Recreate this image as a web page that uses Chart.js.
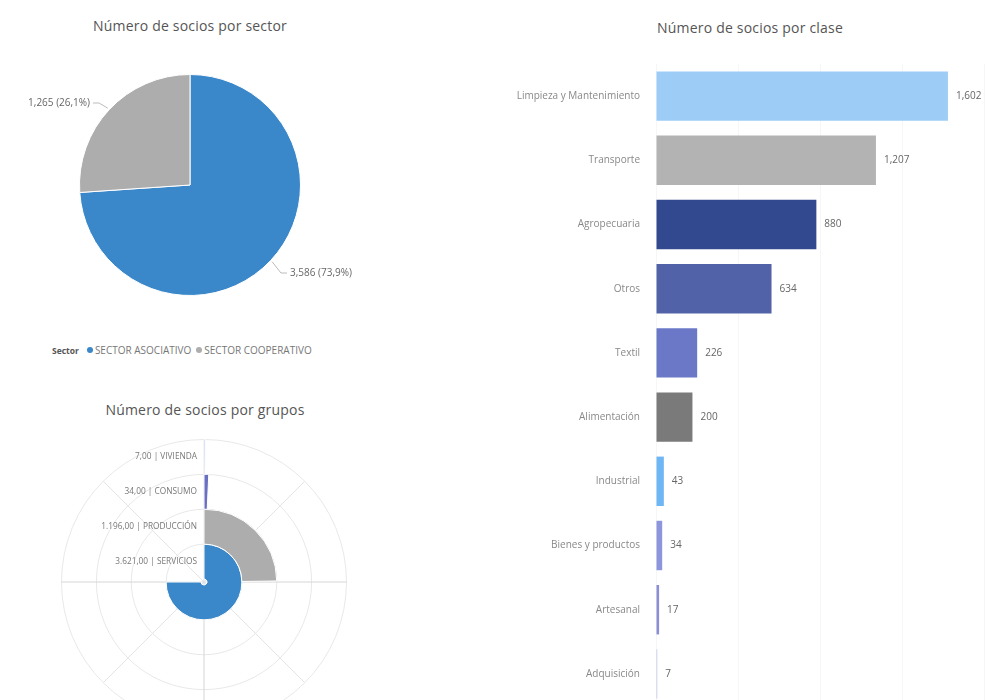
<!DOCTYPE html>
<html>
<head>
<meta charset="utf-8">
<script src="https://cdn.jsdelivr.net/npm/chart.js@4.4.0/dist/chart.umd.min.js"></script>
<style>
    html, body { margin: 0; padding: 0; background: #fff; width: 988px; height: 700px; overflow: hidden;
        font-family: 'Open Sans', 'DejaVu Sans', sans-serif; }
    .title { position: absolute; color: #555; font-size: 14px; letter-spacing: 0.2px; text-align: center; }
    .box { position: absolute; }
    #legend { position: absolute; left: 52px; top: 343px; font-size: 10px; color: #777; white-space: nowrap; }
    #legend b { color: #555; font-size: 8.5px; margin-right: 8px; }
    #legend .dot { display: inline-block; width: 6px; height: 6px; border-radius: 50%; margin: 0 2px 1px 0; }
    #legend .item { margin-right: 5px; }
</style>
</head>
<body>
<div class="title" style="left:40px;top:16px;width:300px">Número de socios por sector</div>
<div class="box" style="left:0;top:40px;width:380px;height:290px"><canvas id="pieChart"></canvas></div>
<div id="legend"></div>

<div class="title" style="left:55px;top:400px;width:300px">Número de socios por grupos</div>
<div class="box" style="left:54px;top:432px;width:300px;height:300px"><canvas id="radialChart"></canvas></div>

<div class="title" style="left:600px;top:18px;width:300px">Número de socios por clase</div>
<div class="box" style="left:480px;top:50px;width:508px;height:670px"><canvas id="barChart"></canvas></div>

<script>
// sector pie
const sectorLabels = ['SECTOR ASOCIATIVO', 'SECTOR COOPERATIVO'];
const sectorValues = [3586, 1265];
const sectorColors = ['#3a87c9', '#adadad'];

// groups (radial bars)
const grupoLabels = ['VIVIENDA', 'CONSUMO', 'PRODUCCIÓN', 'SERVICIOS'];
const grupoValues = [7, 34, 1196, 3621];
const grupoColors = ['#aab2ea', '#6a6fc2', '#adadad', '#3a87c9'];

// classes (horizontal bars)
const claseLabels = ['Limpieza y Mantenimiento', 'Transporte', 'Agropecuaria', 'Otros', 'Textil',
    'Alimentación', 'Industrial', 'Bienes y productos', 'Artesanal', 'Adquisición'];
const claseValues = [1602, 1207, 880, 634, 226, 200, 43, 34, 17, 7];
const claseColors = ['#9dcdf7', '#b3b3b3', '#33498f', '#5262a9', '#6b78c8',
    '#7a7a7a', '#6fb6f4', '#8d96dc', '#8a8fd6', '#c3c6ea'];

const fontFamily = "'Open Sans', 'DejaVu Sans', sans-serif";

// legend for the pie
const legend = document.getElementById('legend');
legend.innerHTML = '<b>Sector</b>' + sectorLabels.map((l, i) =>
    `<span class="item"><span class="dot" style="background:${sectorColors[i]}"></span>${l}</span>`).join('');

// pie labels with leader lines
const pieLabels = {
    id: 'pieLabels',
    afterDatasetsDraw(chart) {
        const ctx = chart.ctx;
        const meta = chart.getDatasetMeta(0);
        const total = sectorValues.reduce((a, b) => a + b, 0);
        ctx.save();
        ctx.font = `10px ${fontFamily}`;
        ctx.fillStyle = '#666';
        ctx.strokeStyle = '#bbb';
        ctx.lineWidth = 1;
        ctx.textBaseline = 'middle';
        meta.data.forEach((arc, i) => {
            const mid = (arc.startAngle + arc.endAngle) / 2;
            const R = arc.outerRadius;
            const cos = Math.cos(mid), sin = Math.sin(mid);
            const x0 = arc.x + cos * (R + 2), y0 = arc.y + sin * (R + 2);
            const x1 = arc.x + cos * (R + 14), y1 = arc.y + sin * (R + 14) + 3;
            const dir = cos >= 0 ? 1 : -1;
            const x2 = x1 + dir * 6;
            ctx.beginPath();
            ctx.moveTo(x0, y0);
            ctx.lineTo(x1, y1);
            ctx.lineTo(x2, y1);
            ctx.stroke();
            const pct = (sectorValues[i] / total * 100).toFixed(1).replace('.', ',');
            const txt = sectorValues[i].toLocaleString('en-US') + ' (' + pct + '%)';
            ctx.textAlign = dir > 0 ? 'left' : 'right';
            ctx.fillText(txt, x2 + dir * 3, y1);
        });
        ctx.restore();
    }
};

new Chart(document.getElementById('pieChart'), {
    type: 'pie',
    data: {
        labels: sectorLabels,
        datasets: [{
            data: sectorValues,
            backgroundColor: sectorColors,
            borderColor: '#fff',
            borderWidth: 1
        }]
    },
    options: {
        responsive: true,
        maintainAspectRatio: false,
        animation: false,
        layout: { padding: 34 },
        plugins: { legend: { display: false }, tooltip: { enabled: false } }
    },
    plugins: [pieLabels]
});

// radial bar chart: concentric doughnut rings
const grupoMax = Math.max(...grupoValues);
const grupoScale = grupoMax * 4 / 3; // largest value covers 270 degrees

const radialGrid = {
    id: 'radialGrid',
    beforeDatasetsDraw(chart) {
        const ctx = chart.ctx;
        const outer = chart.getDatasetMeta(0).data[0];
        const cx = outer.x, cy = outer.y, R = outer.outerRadius;
        ctx.save();
        ctx.lineWidth = 1;
        ctx.strokeStyle = '#e8e8e8';
        chart.data.datasets.forEach((d, i) => {
            const a = chart.getDatasetMeta(i).data[0];
            ctx.beginPath();
            ctx.arc(cx, cy, a.outerRadius, 0, Math.PI * 2);
            ctx.stroke();
        });
        for (let k = 0; k < 8; k++) {
            const ang = k * Math.PI / 4;
            ctx.strokeStyle = k % 2 === 0 ? '#d6d6d6' : '#e4e4e4';
            ctx.beginPath();
            ctx.moveTo(cx, cy);
            ctx.lineTo(cx + Math.cos(ang) * R, cy + Math.sin(ang) * R);
            ctx.stroke();
        }
        ctx.restore();
    },
    afterDatasetsDraw(chart) {
        const ctx = chart.ctx;
        ctx.save();
        ctx.font = `8.3px ${fontFamily}`;
        ctx.fillStyle = '#777';
        ctx.textAlign = 'right';
        ctx.textBaseline = 'middle';
        chart.data.datasets.forEach((d, i) => {
            const a = chart.getDatasetMeta(i).data[0];
            const r = (a.innerRadius + a.outerRadius) / 2;
            const num = grupoValues[i].toLocaleString('de-DE', { minimumFractionDigits: 2, maximumFractionDigits: 2 });
            ctx.fillText(num + ' | ' + grupoLabels[i], a.x - 7, a.y - r);
        });
        ctx.restore();
    }
};

new Chart(document.getElementById('radialChart'), {
    type: 'doughnut',
    data: {
        labels: ['valor', 'resto'],
        datasets: grupoValues.map((v, i) => ({
            label: grupoLabels[i],
            data: [v, grupoScale - v],
            backgroundColor: [grupoColors[i], 'rgba(0,0,0,0)'],
            borderColor: '#fff',
            borderWidth: [1, 0]
        }))
    },
    options: {
        responsive: true,
        maintainAspectRatio: false,
        animation: false,
        cutout: 3,
        layout: { padding: 7 },
        plugins: { legend: { display: false }, tooltip: { enabled: false } }
    },
    plugins: [radialGrid]
});

// value labels next to bars
const barValues = {
    id: 'barValues',
    afterDatasetsDraw(chart) {
        const ctx = chart.ctx;
        ctx.save();
        ctx.font = `10px ${fontFamily}`;
        ctx.fillStyle = '#666';
        ctx.textAlign = 'left';
        ctx.textBaseline = 'middle';
        chart.getDatasetMeta(0).data.forEach((bar, i) => {
            ctx.fillText(claseValues[i].toLocaleString('en-US'), bar.x + 8, bar.y);
        });
        ctx.restore();
    }
};

new Chart(document.getElementById('barChart'), {
    type: 'bar',
    data: {
        labels: claseLabels,
        datasets: [{
            data: claseValues,
            backgroundColor: claseColors,
            categoryPercentage: 1,
            barPercentage: 0.77
        }]
    },
    options: {
        indexAxis: 'y',
        responsive: true,
        maintainAspectRatio: false,
        animation: false,
        layout: { padding: { right: 4 } },
        scales: {
            x: {
                min: 0,
                max: 1800,
                ticks: { display: false, stepSize: 500 },
                grid: { color: '#f6f6f6', drawTicks: false },
                border: { display: false },
                afterFit: (s) => { s.height = 0; }
            },
            y: {
                ticks: { color: '#888', font: { size: 10, family: fontFamily }, padding: 8 },
                grid: { display: false },
                border: { display: false },
                afterFit: (s) => { s.width = 176; }
            }
        },
        plugins: { legend: { display: false }, tooltip: { enabled: false } }
    },
    plugins: [barValues]
});
</script>
</body>
</html>
